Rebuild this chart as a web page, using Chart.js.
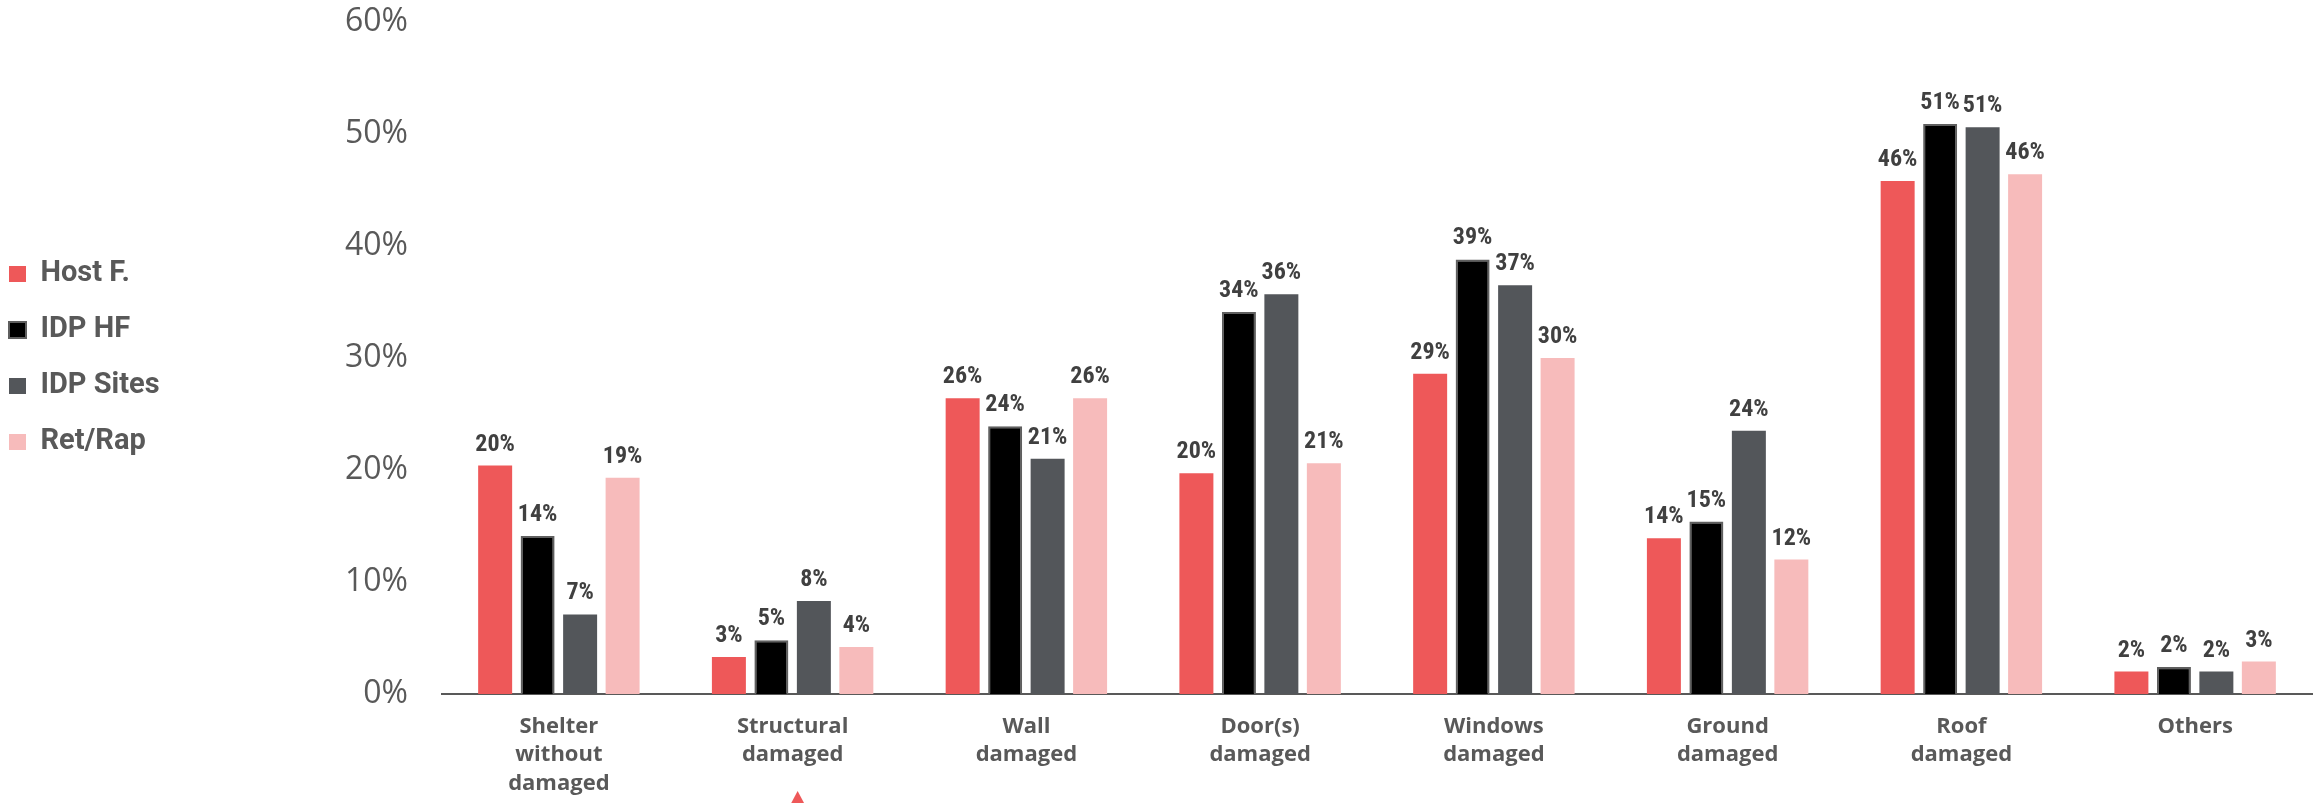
<!DOCTYPE html>
<html>
<head>
<meta charset="utf-8">
<script src="https://cdn.jsdelivr.net/npm/chart.js@4.4.1/dist/chart.umd.min.js"></script>
<style>
  html, body { margin: 0; padding: 0; background: #ffffff; }
  #wrap { width: 2321px; height: 803px; }
</style>
</head>
<body>
<div id="wrap"><canvas id="c" width="2321" height="803"></canvas></div>
<script>
// ---- data ----
const categories = [
  ['Shelter', 'without', 'damaged'],
  ['Structural', 'damaged'],
  ['Wall', 'damaged'],
  ['Door(s)', 'damaged'],
  ['Windows', 'damaged'],
  ['Ground', 'damaged'],
  ['Roof', 'damaged'],
  ['Others']
];
const seriesNames = ['Host F.', 'IDP HF', 'IDP Sites', 'Ret/Rap'];
const hostF    = [20.4, 3.3, 26.4, 19.7, 28.6, 13.9, 45.8, 2.0];
const idpHF    = [14.1, 4.8, 23.9, 34.1, 38.8, 15.4, 50.9, 2.4];
const idpSites = [7.1, 8.3, 21.0, 35.7, 36.5, 23.5, 50.6, 2.0];
const retRap   = [19.3, 4.2, 26.4, 20.6, 30.0, 12.0, 46.4, 2.9];
const yTickValues = [0, 10, 20, 30, 40, 50, 60];

// ---- styles ----
const colors = ['#EE5859', '#000000', '#53565A', '#F7BBBB'];
const borders = ['#EE5859', '#5F5F5F', '#53565A', '#F7BBBB'];
const borderWidths = [0, 2, 0, 0];
const seriesData = [hostF, idpHF, idpSites, retRap];

const PLOT_LEFT = 442;
const PLOT_TOP = 22;
const PLOT_BOTTOM = 694;
const LABEL_FONT = '"Liberation Sans Narrow", "Arial Narrow", "Roboto Condensed", "DejaVu Sans Condensed", "Liberation Sans", sans-serif';

const valueLabels = {
  id: 'valueLabels',
  afterDatasetsDraw(chart) {
    const ctx = chart.ctx;
    ctx.save();
    ctx.font = 'bold 24px ' + LABEL_FONT;
    ctx.fillStyle = '#404040';
    ctx.textAlign = 'center';
    ctx.textBaseline = 'alphabetic';
    chart.data.datasets.forEach((ds, i) => {
      const meta = chart.getDatasetMeta(i);
      meta.data.forEach((bar, j) => {
        ctx.fillText(Math.round(ds.data[j]) + '%', bar.x, bar.y - 15);
      });
    });
    ctx.restore();
  }
};

const cursorMark = {
  id: 'cursorMark',
  afterDraw(chart) {
    const ctx = chart.ctx;
    const x = chart.scales.x.getPixelForValue(1) + 5;
    const h = chart.height;
    ctx.save();
    ctx.fillStyle = '#EE5859';
    ctx.beginPath();
    ctx.moveTo(x, h - 12);
    ctx.lineTo(x - 8, h + 3);
    ctx.lineTo(x + 8, h + 3);
    ctx.closePath();
    ctx.fill();
    ctx.restore();
  }
};

new Chart(document.getElementById('c'), {
  type: 'bar',
  data: {
    labels: categories,
    datasets: seriesNames.map((name, i) => ({
      label: name,
      data: seriesData[i],
      backgroundColor: colors[i],
      borderColor: borders[i],
      borderWidth: borderWidths[i],
      borderSkipped: 'bottom',
      categoryPercentage: 0.727,
      barPercentage: 0.8
    }))
  },
  options: {
    responsive: false,
    animation: false,
    devicePixelRatio: 1,
    layout: { padding: { left: -18, right: 9, top: PLOT_TOP, bottom: 0 } },
    plugins: {
      tooltip: { enabled: false },
      legend: {
        position: 'left',
        align: 'center',
        fullSize: false,
        labels: {
          boxWidth: 17,
          boxHeight: 16,
          padding: 27,
          color: '#595959',
          font: { family: 'Roboto, "Liberation Sans", Arial, sans-serif', size: 29, weight: 'bold' }
        }
      }
    },
    scales: {
      x: {
        grid: { display: false, drawTicks: false },
        border: { display: true, color: '#595959', width: 2 },
        ticks: {
          color: '#595959',
          padding: 18,
          maxRotation: 0,
          autoSkip: false,
          font: { family: '"Open Sans", "Noto Sans", sans-serif', size: 22, weight: 'bold', lineHeight: 1.3 }
        },
        afterFit(scale) {
          scale.height = scale.chart.height - PLOT_BOTTOM;
          scale.paddingLeft = 0;
          scale.paddingRight = 0;
        }
      },
      y: {
        min: 0,
        max: 60,
        grid: { display: false, drawTicks: false },
        border: { display: false },
        afterBuildTicks(scale) { scale.ticks = yTickValues.map(v => ({ value: v })); },
        ticks: {
          color: '#595959',
          padding: 34,
          font: { family: '"Open Sans", "Noto Sans", sans-serif', size: 32 },
          callback: v => v + '%'
        },
        afterFit(scale) {
          const lg = scale.chart.legend;
          const lw = lg ? lg.width : 0;
          const padL = scale.chart.options.layout.padding.left;
          scale.width = PLOT_LEFT - padL - lw;
          scale.paddingTop = 0;
          scale.paddingBottom = 0;
        }
      }
    }
  },
  plugins: [valueLabels, cursorMark]
});
</script>
</body>
</html>
